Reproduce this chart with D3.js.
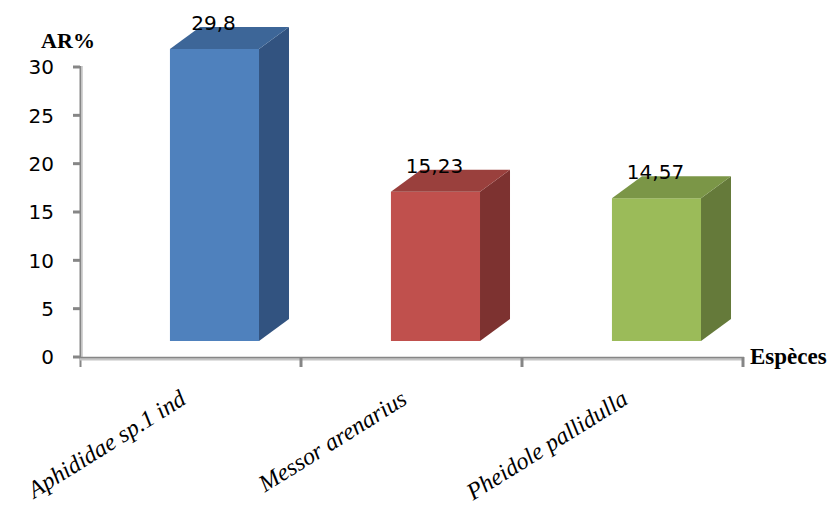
<!DOCTYPE html>
<html>
<head>
<meta charset="utf-8">
<script src="https://cdn.jsdelivr.net/npm/d3@7"></script>
<style>
html,body{margin:0;padding:0;background:#fff;}
svg{display:block;}
</style>
</head>
<body>
<svg id="chart" width="833" height="510"></svg>
<script>
const categories = ["Aphididae sp.1 ind", "Messor arenarius", "Pheidole pallidulla"];
const values = [29.8, 15.23, 14.57];
const yTicks = [0, 5, 10, 15, 20, 25, 30];
const frontColors = ["#4F81BD", "#C0504D", "#9BBB59"];
const sideColors = ["#325380", "#7D3230", "#657A3A"];
const topColors = ["#3D6698", "#9A403D", "#7B9647"];

const svg = d3.select("#chart");
const fmt = d3.formatLocale({decimal: ",", thousands: " ", grouping: [3], currency: ["", ""]}).format("");

const x = d3.scaleBand().domain(categories).range([80, 743]).paddingInner(0).paddingOuter(0);
const y = d3.scaleLinear().domain([0, 30]).range([357, 67]);
// bars sit on the 3D floor, slightly above the front axis line
const yBar = d3.scaleLinear().domain([0, 30]).range([341, 47]);
const depthX = 30, depthY = 22;
const barOffset = 0.407, barWidth = 0.403;

// axes
const gy = svg.append("g");
gy.selectAll("line.tick").data(yTicks).join("line")
  .attr("x1", 73).attr("x2", 80)
  .attr("y1", d => y(d)).attr("y2", d => y(d))
  .attr("stroke", "#868686").attr("stroke-width", 3);
gy.append("line").attr("x1", 80.5).attr("x2", 80.5).attr("y1", y(30) - 1).attr("y2", 367)
  .attr("stroke", "#868686").attr("stroke-width", 2);
gy.append("line").attr("x1", 82).attr("x2", 82).attr("y1", y(30) - 1).attr("y2", 357)
  .attr("stroke", "#c4c4c4").attr("stroke-width", 1.5);
gy.selectAll("text").data(yTicks).join("text")
  .attr("x", 54).attr("y", d => y(d)).attr("dy", "0.36em")
  .attr("text-anchor", "end")
  .attr("font-family", "DejaVu Sans, sans-serif").attr("font-size", 20)
  .attr("fill", "#000").text(d => d);

const gx = svg.append("g");
gx.append("line").attr("x1", 80).attr("x2", 744).attr("y1", 359).attr("y2", 359)
  .attr("stroke", "#c4c4c4").attr("stroke-width", 3);
gx.append("line").attr("x1", 80).attr("x2", 744).attr("y1", 357.5).attr("y2", 357.5)
  .attr("stroke", "#868686").attr("stroke-width", 1.5);
const xTickPos = categories.map(c => x(c)).concat([x(categories[categories.length - 1]) + x.bandwidth()]);
gx.selectAll("line.t").data(xTickPos.slice(1)).join("line")
  .attr("x1", d => d).attr("x2", d => d).attr("y1", 357).attr("y2", 367)
  .attr("stroke", "#868686").attr("stroke-width", 3);

// bars
const gb = svg.append("g");
categories.forEach((c, i) => {
  const x0 = x(c) + x.bandwidth() * barOffset;
  const x1 = x0 + x.bandwidth() * barWidth;
  const yt = yBar(values[i]);
  const yb = yBar(0);
  gb.append("rect").attr("x", x0).attr("y", yt).attr("width", x1 - x0).attr("height", yb - yt)
    .attr("fill", frontColors[i]);
  gb.append("path")
    .attr("d", `M${x1},${yt}L${x1 + depthX},${yt - depthY}L${x1 + depthX},${yb - depthY}L${x1},${yb}Z`)
    .attr("fill", sideColors[i]);
  gb.append("path")
    .attr("d", `M${x0},${yt}L${x0 + depthX},${yt - depthY}L${x1 + depthX},${yt - depthY}L${x1},${yt}Z`)
    .attr("fill", topColors[i]);
  gb.append("text")
    .attr("x", (x0 + x1) / 2 - 1).attr("y", yt - 19)
    .attr("text-anchor", "middle")
    .attr("font-family", "DejaVu Sans, sans-serif").attr("font-size", 20)
    .attr("fill", "#000").text(fmt(values[i]));
});

// category labels
svg.append("g").selectAll("text").data(categories).join("text")
  .attr("transform", d => `translate(${x(d) + x.bandwidth() / 2 - 3},403) rotate(-32)`)
  .attr("text-anchor", "end")
  .attr("font-family", "Liberation Serif, serif").attr("font-style", "italic")
  .attr("font-size", 24).attr("fill", "#000").text(d => d);

// axis titles
svg.append("text").attr("x", 68).attr("y", 48).attr("text-anchor", "middle")
  .attr("font-family", "Liberation Serif, serif").attr("font-weight", "bold")
  .attr("font-size", 22).attr("fill", "#000").text("AR%");
svg.append("text").attr("x", 750).attr("y", 364)
  .attr("font-family", "Liberation Serif, serif").attr("font-weight", "bold")
  .attr("font-size", 23).attr("fill", "#000").text("Espèces");
</script>
</body>
</html>
